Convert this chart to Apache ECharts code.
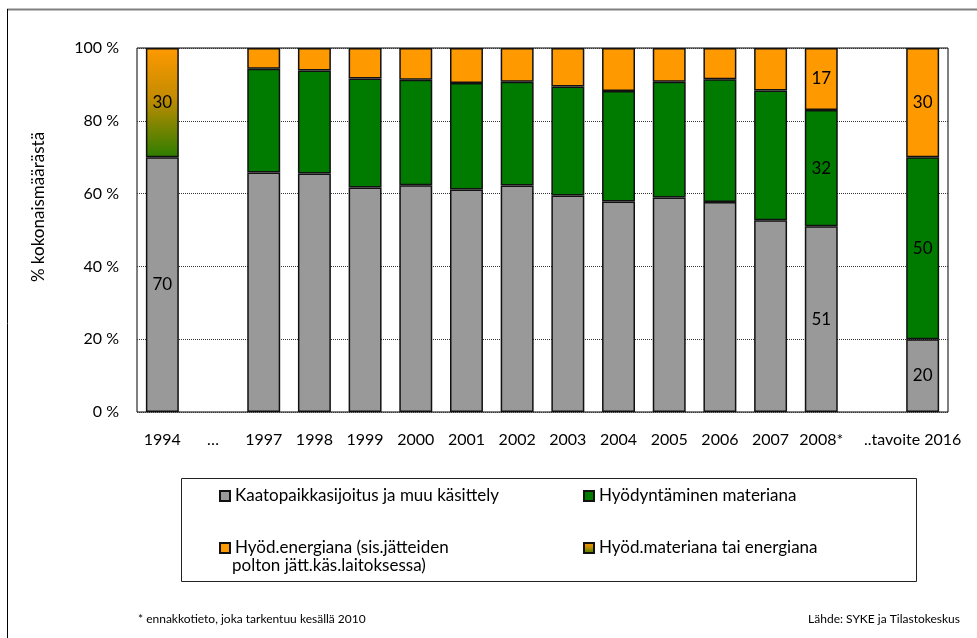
<!DOCTYPE html>
<html>
<head>
<meta charset="utf-8">
<script src="https://cdn.jsdelivr.net/npm/echarts@6/dist/echarts.min.js"></script>
<style>
  html, body { margin: 0; padding: 0; background: #fff; }
  #wasteChart { width: 977px; height: 638px; }
</style>
</head>
<body>
<div id="wasteChart"></div>
<script>
// Categories (blank ones keep the gaps between 1994 / 1997 and 2008 / 2016)
const years = ['1994', '…', '1997', '1998', '1999', '2000', '2001', '2002', '2003', '2004', '2005', '2006', '2007', '2008*', '', '..tavoite 2016'];

// Shares in % of total amount
const landfill = [70, '-', 65.8, 65.5, 61.7, 62.3, 61.1, 62.2, 59.5, 57.8, 58.9, 57.7, 52.7, 51, '-', 20];
const material = ['-', '-', 28.5, 28.3, 29.9, 29.0, 29.3, 28.5, 29.9, 30.4, 31.8, 33.7, 35.6, 32, '-', 50];
const energy = ['-', '-', 5.7, 6.2, 8.4, 8.7, 9.6, 9.3, 10.6, 11.8, 9.3, 8.6, 11.7, 17, '-', 30];
const materialOrEnergy = [30, '-', '-', '-', '-', '-', '-', '-', '-', '-', '-', '-', '-', '-', '-', '-'];

const yTicks = [0, 20, 40, 60, 80, 100];

// which bars carry a value label
const labelledLandfill = ['1994', '2008*', '..tavoite 2016'];
const labelledMaterial = ['2008*', '..tavoite 2016'];
const labelledEnergy = ['2008*', '..tavoite 2016'];
const labelledMixed = ['1994'];

const names = [
  'Kaatopaikkasijoitus ja muu käsittely',
  'Hyödyntäminen materiana',
  'Hyöd.energiana (sis.jätteiden polton jätt.käs.laitoksessa)',
  'Hyöd.materiana tai energiana'
];

const FONT = 'Lato, "DejaVu Sans", sans-serif';

const withLabels = (values, labelled) =>
  values.map((v, i) => ({
    value: v,
    label: { show: labelled.includes(years[i]) }
  }));

var chartDom = document.getElementById('wasteChart');
var myChart = echarts.init(chartDom);

const barBase = {
  type: 'bar',
  stack: 'total',
  barWidth: '65%',
  label: {
    position: 'inside',
    color: '#000',
    fontSize: 17,
    fontFamily: FONT,
    formatter: (p) => Math.round(p.value)
  },
  emphasis: { disabled: true }
};

const legendText = { color: '#000', fontSize: 17, fontFamily: FONT, lineHeight: 20 };

const option = {
  animation: false,
  backgroundColor: '#fff',
  grid: {
    left: 137,
    right: 29,
    top: 48,
    bottom: 226,
    show: true,
    borderColor: '#000',
    borderWidth: 1
  },
  xAxis: {
    type: 'category',
    data: years.map((y) =>
      y === '..tavoite 2016' ? { value: y, textStyle: { padding: [0, 20, 0, 0] } } : y
    ),
    axisLine: { show: false },
    axisTick: { show: false },
    axisLabel: {
      interval: 0,
      margin: 20,
      color: '#000',
      fontSize: 16,
      fontFamily: FONT
    }
  },
  yAxis: {
    type: 'value',
    min: yTicks[0],
    max: yTicks[yTicks.length - 1],
    interval: 20,
    axisLine: { show: false },
    axisTick: { show: false },
    axisLabel: {
      margin: 18,
      color: '#000',
      fontSize: 16,
      fontFamily: FONT,
      formatter: '{value} %'
    },
    splitLine: {
      lineStyle: { type: [1, 1], color: '#333', width: 1 }
    }
  },
  legend: [
    {
      orient: 'vertical',
      left: 214,
      top: 481,
      itemGap: 32,
      itemWidth: 10,
      itemHeight: 10,
      icon: 'rect',
      data: [names[0], names[2]],
      selectedMode: false,
      formatter: (n) => (n === names[2] ? 'Hyöd.energiana (sis.jätteiden' : n),
      textStyle: legendText
    },
    {
      orient: 'vertical',
      left: 578,
      top: 481,
      itemGap: 32,
      itemWidth: 10,
      itemHeight: 10,
      icon: 'rect',
      data: [names[1], names[3]],
      selectedMode: false,
      textStyle: legendText
    }
  ],
  graphic: [
    // outer frame
    { type: 'line', silent: true, shape: { x1: 7, y1: 9.5, x2: 977, y2: 9.5 }, style: { stroke: '#808080', lineWidth: 2 } },
    { type: 'line', silent: true, shape: { x1: 7.5, y1: 9, x2: 7.5, y2: 638 }, style: { stroke: '#000', lineWidth: 1 } },
    // legend box
    { type: 'rect', silent: true, z: -1, shape: { x: 181.5, y: 478.5, width: 735, height: 103 }, style: { fill: 'none', stroke: '#222', lineWidth: 1 } },
    {
      type: 'text', silent: true, left: 232, top: 557,
      style: { text: 'polton jätt.käs.laitoksessa)', fill: '#000', font: '17px ' + FONT }
    },
    // y axis title
    {
      type: 'text', silent: true, x: 39, y: 207, rotation: Math.PI / 2,
      style: { text: '% kokonaismäärästä', fill: '#000', font: '17px ' + FONT, align: 'center', verticalAlign: 'middle' }
    },
    // footnotes
    {
      type: 'text', silent: true, left: 138, top: 613,
      style: { text: '* ennakkotieto, joka tarkentuu kesällä 2010', fill: '#000', font: '12px ' + FONT }
    },
    {
      type: 'text', silent: true, right: 17, top: 613,
      style: { text: 'Lähde: SYKE ja Tilastokeskus', fill: '#000', font: '12px ' + FONT }
    }
  ],
  series: [
    {
      ...barBase,
      name: names[0],
      data: withLabels(landfill, labelledLandfill),
      itemStyle: { color: '#999999', borderColor: '#111', borderWidth: 1.5 }
    },
    {
      ...barBase,
      name: names[3],
      data: withLabels(materialOrEnergy, labelledMixed),
      itemStyle: {
        color: new echarts.graphic.LinearGradient(0, 0, 0, 1, [
          { offset: 0, color: '#ff9900' },
          { offset: 0.45, color: '#c48c00' },
          { offset: 1, color: '#2e7d00' }
        ]),
        borderColor: '#111',
        borderWidth: 1.5
      }
    },
    {
      ...barBase,
      name: names[1],
      data: withLabels(material, labelledMaterial),
      itemStyle: { color: '#007b00', borderColor: '#111', borderWidth: 1.5 }
    },
    {
      ...barBase,
      name: names[2],
      data: withLabels(energy, labelledEnergy),
      itemStyle: { color: '#ff9900', borderColor: '#111', borderWidth: 1.5 }
    }
  ]
};

myChart.setOption(option);
</script>
</body>
</html>
